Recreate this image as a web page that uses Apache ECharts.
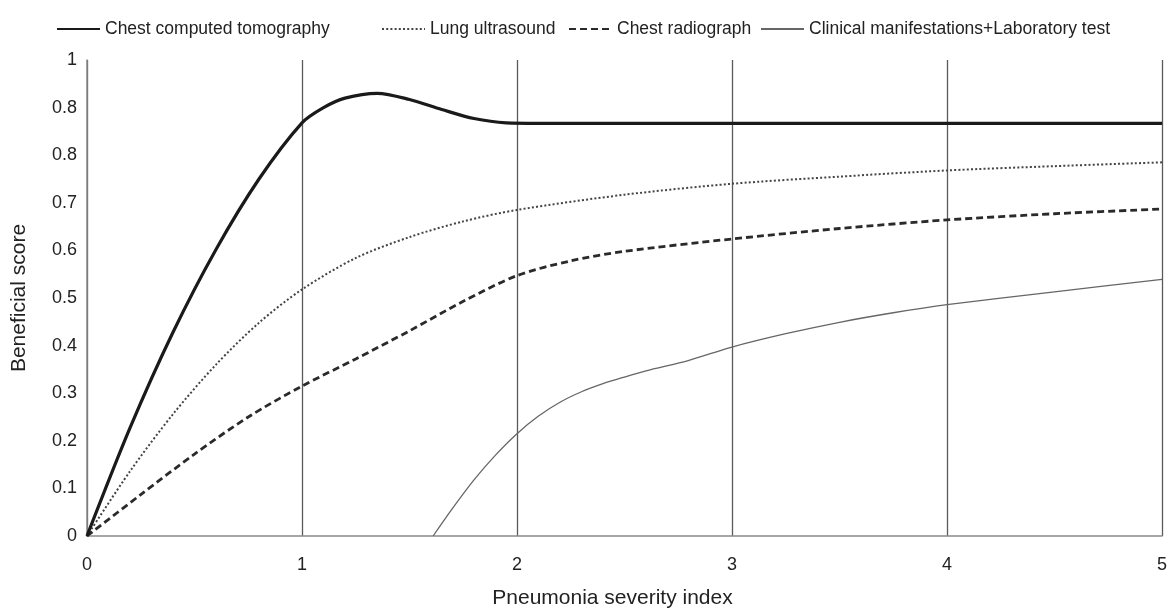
<!DOCTYPE html>
<html>
<head>
<meta charset="utf-8">
<title>Beneficial score</title>
<script src="https://cdn.jsdelivr.net/npm/echarts@6/dist/echarts.min.js"></script>
<style>
  html, body { margin: 0; padding: 0; background: #fff; }
  #chart { width: 1170px; height: 614px; }
</style>
</head>
<body>
<div id="chart"></div>
<script>
// series names (legend order)
var seriesNames = ['Chest computed tomography', 'Lung ultrasound', 'Chest radiograph', 'Clinical manifestations+Laboratory test'];

// [severity index, beneficial score]
var ctPoints = [[0, 0], [0.2, 0.227], [0.4, 0.428], [0.6, 0.602], [0.8, 0.75], [1, 0.868], [1.1, 0.9],
  [1.2, 0.92], [1.35, 0.93], [1.5, 0.917], [1.65, 0.896], [1.8, 0.877], [1.95, 0.868], [2.1, 0.867],
  [3, 0.867], [4, 0.867], [5, 0.867]];
var lusPoints = [[0, 0], [0.2, 0.136], [0.4, 0.256], [0.6, 0.36], [0.8, 0.448], [1, 0.518], [1.25, 0.584],
  [1.5, 0.628], [1.75, 0.661], [2, 0.685], [2.5, 0.717], [3, 0.74], [3.5, 0.755], [4, 0.768], [4.5, 0.777], [5, 0.785]];
var cxrPoints = [[0, 0], [0.25, 0.087], [0.5, 0.172], [0.75, 0.25], [1, 0.315], [1.25, 0.372], [1.5, 0.431],
  [1.75, 0.493], [2, 0.547], [2.25, 0.578], [2.5, 0.598], [3, 0.624], [3.5, 0.646], [4, 0.664], [4.5, 0.677], [5, 0.687]];
var clinPoints = [[1.61, 0], [1.7, 0.058], [1.8, 0.118], [1.9, 0.17], [2, 0.215], [2.1, 0.252], [2.2, 0.281],
  [2.3, 0.303], [2.4, 0.32], [2.5, 0.334], [2.6, 0.347], [2.8, 0.369], [3, 0.397], [3.25, 0.425],
  [3.5, 0.449], [3.75, 0.469], [4, 0.486], [4.5, 0.513], [5, 0.539]];

// tick labels exactly as printed in the figure (0.9 is printed as 0.8)
var xTickLabels = ['0', '1', '2', '3', '4', '5'];
var yTickLabels = ['0', '0.1', '0.2', '0.3', '0.4', '0.5', '0.6', '0.7', '0.8', '0.8', '1'];

var font = 'Liberation Sans, Arial, Helvetica, sans-serif';
var chart = echarts.init(document.getElementById('chart'), null, { renderer: 'canvas' });

function legendAt(name, left) {
  return {
    data: [name],
    left: left,
    top: 15,
    itemWidth: 43,
    itemHeight: 14,
    selectedMode: false,
    itemStyle: { opacity: 0 },
    textStyle: { fontFamily: font, fontSize: 17.5, color: '#222' }
  };
}

chart.setOption({
  animation: false,
  backgroundColor: '#fff',
  legend: [
    legendAt(seriesNames[0], 51),
    legendAt(seriesNames[1], 376),
    legendAt(seriesNames[2], 563),
    legendAt(seriesNames[3], 755)
  ],
  grid: {
    left: 87,
    right: 4,
    top: 60,
    bottom: 73
  },
  xAxis: {
    type: 'value',
    min: 0,
    max: 5,
    interval: 1,
    name: 'Pneumonia severity index',
    nameLocation: 'middle',
    nameGap: 52,
    nameTextStyle: { fontFamily: font, fontSize: 21, color: '#222', padding: [0, 24, 0, 0] },
    axisLine: { lineStyle: { color: '#8a8a8a', width: 1.5 } },
    axisTick: { show: false },
    axisLabel: {
      margin: 20,
      fontFamily: font,
      fontSize: 18,
      color: '#222',
      formatter: function (v) { return xTickLabels[Math.round(v)]; }
    },
    splitLine: { show: true, lineStyle: { color: '#5a5a5a', width: 1.3 } }
  },
  yAxis: {
    type: 'value',
    min: 0,
    max: 1,
    interval: 0.1,
    name: 'Beneficial score',
    nameLocation: 'middle',
    nameGap: 57,
    nameTextStyle: { fontFamily: font, fontSize: 21, color: '#222' },
    axisLine: { show: true, lineStyle: { color: '#8a8a8a', width: 1.5 } },
    axisTick: { show: false },
    axisLabel: {
      margin: 10,
      fontFamily: font,
      fontSize: 18,
      color: '#222',
      formatter: function (v) { return yTickLabels[Math.round(v * 10)]; }
    },
    splitLine: { show: false }
  },
  series: [
    {
      name: seriesNames[0],
      type: 'line',
      data: ctPoints,
      smooth: 0.3,
      symbol: 'none',
      lineStyle: { color: '#1a1a1a', width: 3.2 },
      itemStyle: { color: '#1a1a1a' },
      z: 5
    },
    {
      name: seriesNames[1],
      type: 'line',
      data: lusPoints,
      smooth: 0.3,
      symbol: 'none',
      lineStyle: { color: '#444', width: 2, type: [2, 2.2] },
      itemStyle: { color: '#444' }
    },
    {
      name: seriesNames[2],
      type: 'line',
      data: cxrPoints,
      smooth: 0.3,
      symbol: 'none',
      lineStyle: { color: '#2a2a2a', width: 2.8, type: [7, 4] },
      itemStyle: { color: '#2a2a2a' }
    },
    {
      name: seriesNames[3],
      type: 'line',
      data: clinPoints,
      smooth: 0.3,
      symbol: 'none',
      lineStyle: { color: '#666', width: 1.3 },
      itemStyle: { color: '#666' }
    }
  ]
});
</script>
</body>
</html>
